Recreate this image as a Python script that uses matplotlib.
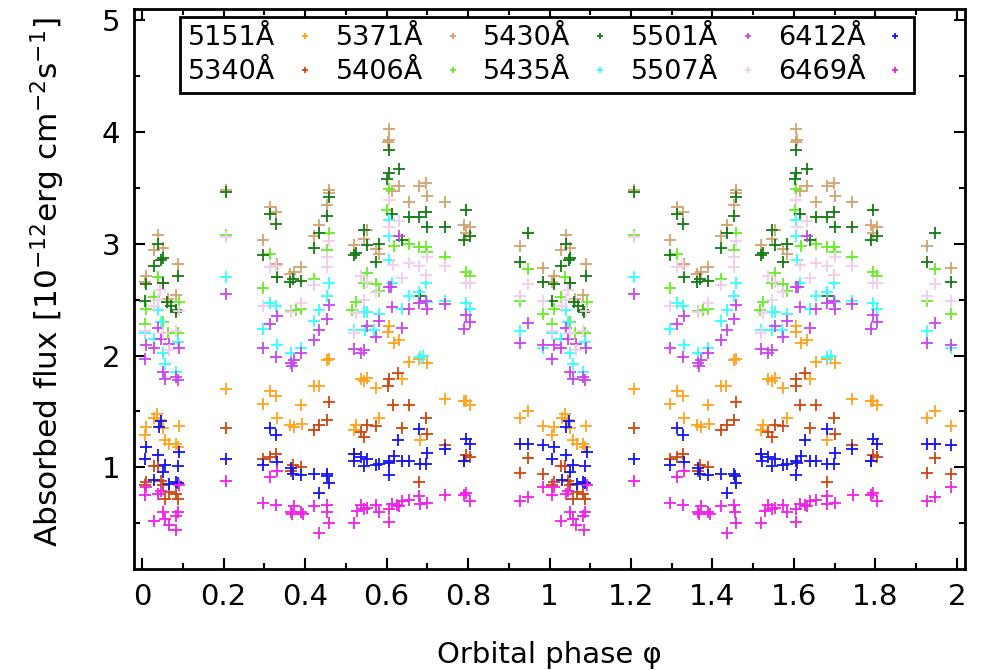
import matplotlib
matplotlib.use('Agg')
import matplotlib.pyplot as plt
from matplotlib.ticker import MultipleLocator

# flux values, phase in [0,1), shown again at phase+1
phase_5151 = [0.006, 0.010, 0.030, 0.037, 0.046, 0.050, 0.057, 0.067, 0.083, 0.087, 0.090,
              0.207,
              0.296, 0.314, 0.328, 0.330, 0.362, 0.373, 0.390, 0.392, 0.422, 0.434, 0.454, 0.459,
              0.520, 0.524, 0.537, 0.545, 0.553, 0.573, 0.582, 0.604, 0.606, 0.618, 0.631, 0.639,
              0.655, 0.680, 0.681, 0.700, 0.743, 0.789, 0.794, 0.805,
              0.927, 0.947, 0.985]
flux_5151 = [1.29, 1.36, 1.44, 1.48, 1.42, 1.35, 1.24, 1.21, 1.21, 1.18, 1.37,
             1.70,
             1.57, 1.68, 1.64, 1.44, 1.38, 1.36, 1.56, 1.39, 1.73, 1.73, 1.96, 1.97,
             1.33, 1.38, 1.79, 1.77, 1.80, 1.71, 1.44, 2.21, 2.26, 2.11, 2.14, 1.79,
             1.94, 1.97, 1.24, 1.93, 1.61, 1.59, 1.59, 1.56,
             1.44, 1.50, 1.37]

phase_5340 = [0.006, 0.010, 0.028, 0.038, 0.046, 0.050, 0.057, 0.067, 0.083, 0.087,
              0.207,
              0.296, 0.314, 0.328, 0.365, 0.370, 0.390, 0.422, 0.435, 0.453, 0.459,
              0.520, 0.537, 0.545, 0.553, 0.573, 0.604, 0.605, 0.616, 0.628, 0.639, 0.655,
              0.680, 0.698, 0.700, 0.743, 0.789, 0.794, 0.805,
              0.927, 0.947, 0.985]
flux_5340 = [0.84, 0.87, 1.01, 1.01, 0.88, 0.84, 0.72, 0.78, 0.76, 0.72,
             1.35,
             1.07, 1.09, 1.12, 0.97, 1.02, 1.00, 1.33, 1.38, 1.42, 1.58,
             1.12, 1.32, 1.27, 1.38, 1.37, 1.73, 1.79, 1.56, 1.84, 1.35, 1.56,
             0.87, 1.44, 1.30, 1.20, 1.06, 1.11, 1.09,
             0.95, 1.08, 0.94]

phase_5371 = [0.006, 0.010, 0.028, 0.040, 0.050, 0.051, 0.063, 0.083, 0.089,
              0.207,
              0.296, 0.314, 0.328, 0.330, 0.362, 0.373, 0.390, 0.422, 0.435, 0.454, 0.458, 0.459,
              0.520, 0.545, 0.553, 0.573, 0.582, 0.604, 0.606, 0.607, 0.614, 0.631, 0.655,
              0.680, 0.698, 0.700, 0.743, 0.790, 0.794, 0.805,
              0.927, 0.985]
flux_5371 = [2.66, 2.71, 2.94, 3.08, 2.65, 2.96, 2.51, 2.54, 2.82,
             3.48,
             3.03, 3.33, 3.28, 2.82, 2.73, 2.75, 2.79, 3.07, 3.17, 3.35, 3.45, 3.48,
             2.99, 3.04, 3.12, 2.95, 2.91, 3.91, 4.03, 3.93, 3.47, 3.52, 3.37,
             3.52, 3.54, 3.43, 3.37, 3.17, 3.10, 3.15,
             2.98, 2.78]

phase_5406 = [0.006, 0.010, 0.028, 0.038, 0.050, 0.063, 0.087, 0.091,
              0.207,
              0.296, 0.314, 0.365, 0.378, 0.390, 0.422, 0.454, 0.459,
              0.516, 0.524, 0.545, 0.553, 0.573, 0.582, 0.602, 0.606, 0.618,
              0.655, 0.680, 0.698, 0.700, 0.743, 0.794, 0.805,
              0.927, 0.947, 0.985]
flux_5406 = [2.28, 2.42, 2.52, 2.70, 2.30, 2.20, 2.20, 2.48,
             3.08,
             2.60, 2.91, 2.40, 2.41, 2.42, 2.68, 2.94, 3.10,
             2.41, 2.48, 2.65, 2.74, 2.64, 2.58, 3.30, 3.49, 2.98,
             3.00, 2.97, 2.97, 2.93, 2.88, 2.75, 2.71,
             2.49, 2.77, 2.37]

phase_5430 = [0.006, 0.010, 0.028, 0.040, 0.047, 0.050, 0.051, 0.060, 0.071, 0.083, 0.084, 0.089,
              0.207,
              0.296, 0.314, 0.328, 0.330, 0.362, 0.370, 0.390, 0.422, 0.435, 0.454, 0.459,
              0.520, 0.524, 0.545, 0.553, 0.573, 0.582, 0.602, 0.605, 0.606, 0.614, 0.631, 0.639,
              0.655, 0.680, 0.681, 0.698, 0.700, 0.743, 0.789, 0.794, 0.805,
              0.927, 0.947, 0.985]
flux_5430 = [2.49, 2.64, 2.80, 3.00, 2.85, 2.87, 2.65, 2.48, 2.44, 2.41, 2.39, 2.71,
             3.46,
             2.90, 3.27, 3.18, 2.70, 2.66, 2.68, 2.67, 2.96, 3.10, 3.25, 3.42,
             2.90, 2.92, 3.12, 2.99, 2.84, 3.00, 3.58, 3.84, 3.63, 3.27, 3.67, 3.03,
             3.24, 3.24, 2.53, 3.28, 3.15, 3.15, 3.03, 3.30, 3.07,
             2.84, 3.10, 2.66]

phase_5435 = [0.006, 0.028, 0.040, 0.046, 0.050, 0.057, 0.083, 0.087,
              0.207,
              0.296, 0.314, 0.328, 0.330, 0.365, 0.390, 0.422, 0.435, 0.454, 0.459,
              0.520, 0.545, 0.546, 0.553, 0.570, 0.582, 0.605, 0.606, 0.607, 0.614, 0.639,
              0.655, 0.680, 0.681, 0.690, 0.698, 0.700, 0.743, 0.794, 0.805,
              0.927, 0.985]
flux_5435 = [2.20, 2.15, 2.41, 2.30, 2.02, 1.92, 1.85, 2.12,
             2.70,
             2.24, 2.47, 2.44, 2.09, 2.02, 2.07, 2.31, 2.41, 2.53, 2.65,
             2.23, 2.39, 2.23, 2.39, 2.23, 2.37, 3.21, 3.07, 2.85, 2.65, 2.42,
             2.53, 2.57, 1.99, 2.00, 2.65, 2.48, 2.49, 2.47, 2.42,
             2.22, 2.07]

phase_5501 = [0.006, 0.010, 0.028, 0.040, 0.046, 0.050, 0.057, 0.066, 0.083, 0.087, 0.090,
              0.207,
              0.296, 0.314, 0.328, 0.330, 0.365, 0.368, 0.373, 0.390, 0.422, 0.435, 0.454, 0.459,
              0.520, 0.537, 0.545, 0.553, 0.573, 0.582, 0.605, 0.610, 0.614, 0.631, 0.639,
              0.655, 0.680, 0.698, 0.700, 0.743, 0.789, 0.794, 0.805,
              0.927, 0.947, 0.985]
flux_5501 = [1.97, 2.09, 2.07, 2.25, 2.15, 1.85, 1.79, 2.10, 1.81, 1.78, 2.07,
             2.55,
             2.07, 2.28, 1.99, 2.35, 1.93, 1.91, 1.96, 2.02, 2.14, 2.23, 2.33, 2.45,
             2.06, 2.02, 2.05, 2.26, 2.17, 2.31, 2.61, 2.61, 2.43, 3.07, 2.25,
             2.42, 2.47, 2.49, 2.42, 2.46, 2.24, 2.36, 2.30,
             2.11, 2.29, 2.09]

phase_5507 = [0.006, 0.030, 0.040, 0.045, 0.050, 0.066, 0.083, 0.090,
              0.207,
              0.296, 0.314, 0.328, 0.365, 0.390, 0.422, 0.453, 0.454, 0.459,
              0.520, 0.524, 0.537, 0.545, 0.553, 0.573, 0.606, 0.607, 0.616, 0.631, 0.639,
              0.655, 0.680, 0.698, 0.700, 0.743, 0.794, 0.805,
              0.927, 0.947, 0.985]
flux_5507 = [2.22, 2.44, 2.50, 2.59, 2.20, 2.05, 2.22, 2.40,
             3.06,
             2.44, 2.79, 2.80, 2.39, 2.47, 2.63, 2.88, 2.79, 3.02,
             2.20, 2.38, 2.71, 2.50, 2.66, 2.57, 3.39, 3.15, 2.81, 3.20, 2.69,
             2.83, 2.80, 2.72, 2.88, 2.80, 2.65, 2.65,
             2.53, 2.64, 2.49]

phase_6412 = [0.006, 0.010, 0.030, 0.040, 0.041, 0.047, 0.050, 0.057, 0.067, 0.083, 0.087, 0.088, 0.091,
              0.207,
              0.296, 0.314, 0.328, 0.330, 0.365, 0.370, 0.390, 0.422, 0.435, 0.453, 0.455, 0.459,
              0.520, 0.521, 0.537, 0.545, 0.553, 0.573, 0.582, 0.605, 0.606, 0.607, 0.618, 0.628,
              0.639, 0.655, 0.680, 0.681, 0.698, 0.700, 0.743, 0.789, 0.794, 0.805,
              0.927, 0.947, 0.985]
flux_6412 = [1.07, 1.18, 0.89, 1.11, 1.36, 1.41, 0.96, 1.02, 0.85, 0.87, 1.01, 0.86, 1.14,
             1.07,
             1.02, 1.35, 1.29, 1.05, 0.99, 0.94, 0.93, 0.94, 0.77, 0.94, 0.92, 0.86,
             1.12, 1.06, 1.09, 1.01, 1.07, 1.02, 1.03, 0.93, 1.06, 1.04, 1.10, 1.24,
             1.06, 1.06, 1.34, 1.03, 1.03, 1.13, 1.16, 1.06, 1.25, 1.21,
             1.21, 1.21, 1.20]

phase_6469 = [0.006, 0.010, 0.028, 0.040, 0.046, 0.050, 0.057, 0.066, 0.083, 0.084, 0.087, 0.091,
              0.207,
              0.296, 0.314, 0.328, 0.330, 0.365, 0.368, 0.373, 0.390, 0.394, 0.422, 0.435, 0.453, 0.455, 0.459,
              0.520, 0.528, 0.537, 0.545, 0.553, 0.573, 0.582, 0.605, 0.606, 0.614, 0.626, 0.631,
              0.639, 0.655, 0.680, 0.681, 0.700, 0.744, 0.790, 0.794, 0.805,
              0.927, 0.947, 0.985]
flux_6469 = [0.75, 0.82, 0.52, 0.76, 0.79, 0.60, 0.54, 0.48, 0.56, 0.44, 0.60, 0.84,
             0.88,
             0.68, 0.91, 0.66, 0.97, 0.60, 0.58, 0.65, 0.60, 0.58, 0.65, 0.41, 0.66, 0.60, 0.50,
             0.50, 0.61, 0.66, 0.63, 0.64, 0.66, 0.60, 0.63, 0.51, 0.67, 0.66, 0.65,
             0.70, 0.71, 0.74, 0.67, 0.68, 0.75, 0.75, 0.77, 0.70,
             0.70, 0.73, 0.82]

series = [
    ('5151Å', phase_5151, flux_5151, '#ffa21f'),
    ('5340Å', phase_5340, flux_5340, '#d0450f'),
    ('5371Å', phase_5371, flux_5371, '#d2a271'),
    ('5406Å', phase_5406, flux_5406, '#66ee22'),
    ('5430Å', phase_5430, flux_5430, '#137a13'),
    ('5435Å', phase_5435, flux_5435, '#33ffff'),
    ('5501Å', phase_5501, flux_5501, '#c845ee'),
    ('5507Å', phase_5507, flux_5507, '#f0cdec'),
    ('6412Å', phase_6412, flux_6412, '#1515ee'),
    ('6469Å', phase_6469, flux_6469, '#f020e8'),
]

plt.rcParams['font.family'] = 'DejaVu Sans'
fig = plt.figure(figsize=(9.89, 6.70), dpi=100)
ax = fig.add_axes([134/989, 1-569/670, (965-134)/989, (569-9)/670])

for lab, ph, fl, col in series:
    x = ph + [p + 1 for p in ph]
    y = fl + fl
    ax.plot(x, y, linestyle='none', marker='+', markersize=8, markeredgewidth=1.3,
            color=col, label=lab)

ax.set_xlim(-0.02, 2.02)
ax.set_ylim(0.09, 5.1)
ax.xaxis.set_major_locator(MultipleLocator(0.2))
ax.xaxis.set_minor_locator(MultipleLocator(0.1))
ax.yaxis.set_major_locator(MultipleLocator(1))
ax.yaxis.set_minor_locator(MultipleLocator(0.5))
ax.xaxis.set_major_formatter(plt.FuncFormatter(lambda v, p: '%g' % round(v, 1)))
ax.tick_params(which='both', direction='in', top=True, right=True, width=1.5,
               labelsize=21, pad=10)
ax.tick_params(which='major', length=8)
ax.tick_params(which='minor', length=4)
for s in ax.spines.values():
    s.set_linewidth(2)

ax.set_xlabel('Orbital phase φ', fontsize=21, labelpad=22)
fig.text(48/989, 1-282/670, 'Absorbed flux [10$^{-12}$erg cm$^{-2}$s$^{-1}$]',
         fontsize=22.5, rotation=90, ha='center', va='center')

leg = ax.legend(loc='upper left', bbox_to_anchor=(180/989, 1-17/670),
                bbox_transform=fig.transFigure, ncol=5, markerfirst=False,
                fontsize=19.5, frameon=True, fancybox=False, edgecolor='black',
                handlelength=0.8, handletextpad=0.7, columnspacing=0.72, labelspacing=0.3,
                borderpad=0.3, borderaxespad=0, markerscale=0.6)
leg.get_frame().set_linewidth(2)
leg.get_frame().set_alpha(None)

plt.savefig('out.png', dpi=100)
